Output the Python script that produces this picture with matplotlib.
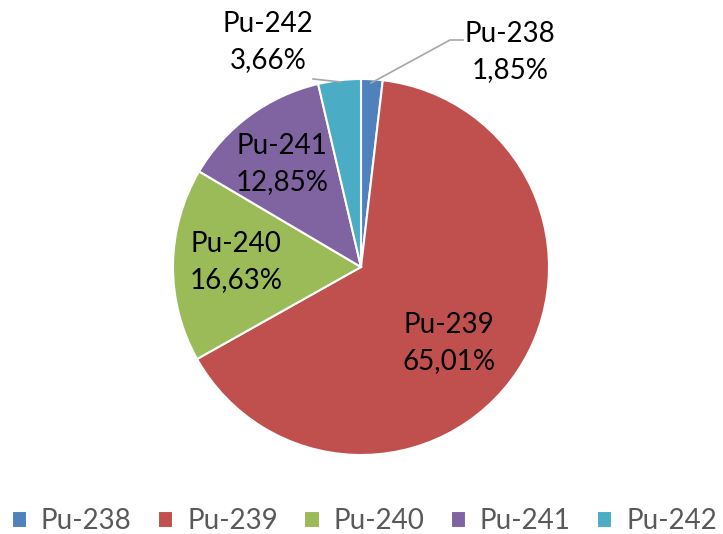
import matplotlib.pyplot as plt

labels = ["Pu-238", "Pu-239", "Pu-240", "Pu-241", "Pu-242"]
shares = [1.85, 65.01, 16.63, 12.85, 3.66]
colors = ["#4F81BD", "#C0504D", "#9BBB59", "#8064A2", "#4BACC6"]

W, H = 723, 534
plt.rcParams["font.family"] = ["Lato", "DejaVu Sans"]

fig = plt.figure(figsize=(W / 100, H / 100), dpi=100)
ax = fig.add_axes([0, 0, 1, 1])
ax.axis("off")

wedges, _ = ax.pie(
    shares,
    colors=colors,
    startangle=90,
    counterclock=False,
    center=(361, H - 267),
    radius=188,
    wedgeprops={"edgecolor": "white", "linewidth": 1.5},
)
ax.set_xlim(0, W)
ax.set_ylim(0, H)
ax.set_aspect("equal")

# label positions in pixels (x, y from top)
label_pos = [(510, 52), (449, 343), (236, 262), (282, 164), (268, 42)]
for name, val, (x, y) in zip(labels, shares, label_pos):
    txt = f"{name}\n{val:.2f}%".replace(".", ",")
    ax.text(x, H - y, txt, ha="center", va="center", fontsize=20,
            color="black", linespacing=1.45)

# leader lines
ax.plot([371, 450, 463], [H - 83, H - 40, H - 40], color="#A6A6A6", lw=1.2)
ax.plot([341, 313], [H - 82, H - 79], color="#A6A6A6", lw=1.2)

fig.legend(
    wedges, labels, loc="center", bbox_to_anchor=(0.504, 1 - 521 / H), ncol=5,
    frameon=False, fontsize=20, labelcolor="#595959",
    handlelength=0.55, handleheight=0.55, handletextpad=0.5, columnspacing=0.95,
)

fig.savefig("out.png", dpi=100)
